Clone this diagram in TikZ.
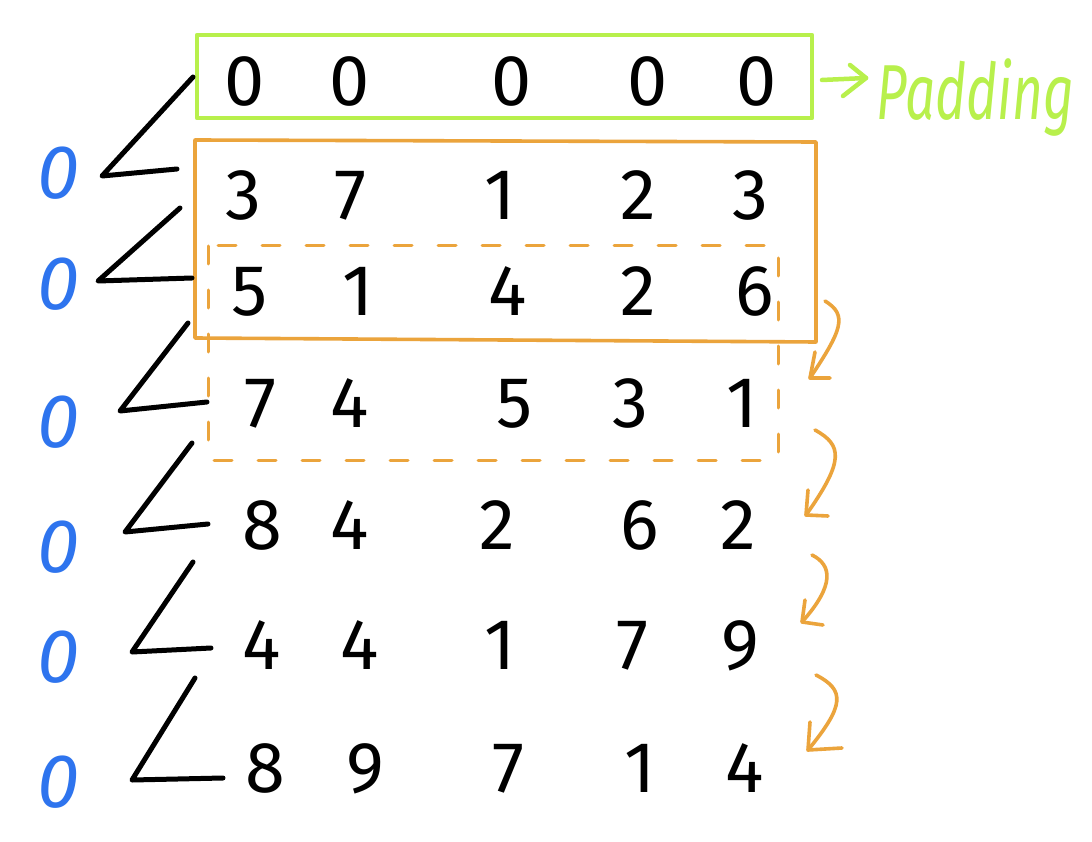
\documentclass[tikz,border=0pt]{standalone}
\usepackage{fontspec}
\setmainfont{Fira Sans}
\definecolor{pgreen}{HTML}{B8F04C}
\definecolor{porange}{HTML}{EBA43C}
\definecolor{pblue}{HTML}{2E74EE}
\tikzset{
  digit/.style={anchor=base, inner sep=0pt, font=\fontsize{72}{72}\selectfont},
  bluezero/.style={anchor=base, inner sep=0pt, text=pblue, font=\itshape\fontsize{76}{76}\selectfont},
  ink/.style={line width=5pt, line cap=round, line join=round},
  orng/.style={draw=porange, line width=3.6pt, line cap=round, line join=round},
  grn/.style={draw=pgreen, line width=4.5pt, line cap=round, line join=round},
}
\begin{document}
\begin{tikzpicture}[x=1pt,y=-1pt]
\useasboundingbox[fill=white] (0,0) rectangle (1092,842);

% padding box
\draw[grn] (197,35) rectangle (812,118);
\foreach \v/\x [count=\c] in {0/245,0/350,0/512,0/648,0/757}
  \node[digit] (r0c\c) at (\x,106) {\v};
\coordinate (pa) at (822,80);
\coordinate (pb) at (866,78);
\draw[grn] (pa) -- (pb);
\draw[grn] (850,65) -- (pb) -- (843,96);
\node[anchor=base west, inner sep=0pt, text=pgreen, font=\itshape\fontsize{78}{78}\selectfont] (pad) at (876,120) {\scalebox{0.68}[1]{Padding}};

% data rows
\foreach \v/\x [count=\c] in {3/243,7/350,1/500,2/638,3/750}
  \node[digit] (r1c\c) at (\x,220) {\v};
\foreach \v/\x [count=\c] in {5/250,1/358,4/508,2/638,6/755}
  \node[digit] (r2c\c) at (\x,316) {\v};
\foreach \v/\x [count=\c] in {7/260,4/350,5/515,3/630,1/742}
  \node[digit] (r3c\c) at (\x,427) {\v};
\foreach \v/\x [count=\c] in {8/262,4/350,2/497,6/640,2/738}
  \node[digit] (r4c\c) at (\x,549) {\v};
\foreach \v/\x [count=\c] in {4/262,4/360,1/500,7/632,9/740}
  \node[digit] (r5c\c) at (\x,669) {\v};
\foreach \v/\x [count=\c] in {8/265,9/365,7/508,1/640,4/745}
  \node[digit] (r6c\c) at (\x,792) {\v};

% orange windows
\draw[orng] (195,140) -- (816,142) -- (816,342) -- (195,338) -- cycle;
\draw[orng, line width=3pt, dash pattern=on 18pt off 26pt] (208,246) rectangle (778,460);

% blue zeros
\foreach \y [count=\c] in {199,309,447,572,682,807}
  \node[bluezero] (z\c) at (58,\y) {0};

% angle marks
\draw[ink] (193,77) -- (102,176) -- (177,169);
\draw[ink] (180,208) -- (98,281) -- (192,278);
\draw[ink] (188,323) -- (120,411) -- (207,402);
\draw[ink] (192,443) -- (125,532) -- (208,524);
\draw[ink] (193,562) -- (132,652) -- (211,648);
\draw[ink] (195,678) -- (132,780) -- (223,778);

% orange squiggle arrows
\draw[orng] (825,301) .. controls (848,315) and (842,330) .. (810,378);
\draw[orng] (815,352) -- (810,378) -- (830,378);
\draw[orng] (815,430) .. controls (842,445) and (845,460) .. (806,515);
\draw[orng] (808,490) -- (806,515) -- (828,516);
\draw[orng] (812,555) .. controls (832,565) and (835,585) .. (802,622);
\draw[orng] (805,600) -- (802,622) -- (823,625);
\draw[orng] (816,675) .. controls (845,690) and (845,705) .. (808,750);
\draw[orng] (810,722) -- (808,750) -- (842,748);
\end{tikzpicture}
\end{document}
